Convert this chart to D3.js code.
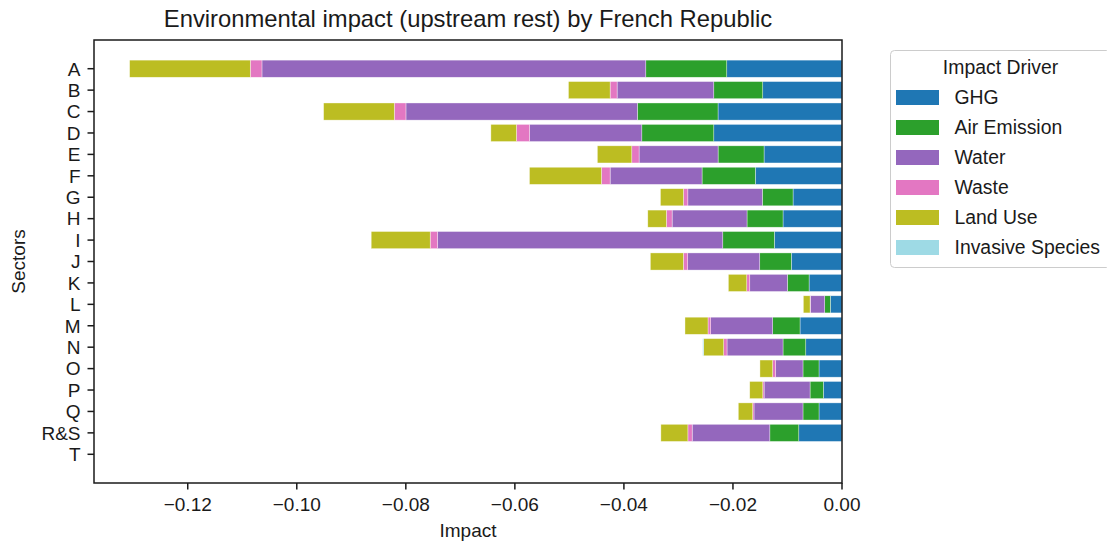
<!DOCTYPE html>
<html><head><meta charset="utf-8">
<script src="https://cdn.jsdelivr.net/npm/d3@7"></script>
<style>body{margin:0;background:#fff;} text{font-family:"Liberation Sans",Arial,sans-serif;fill:#1a1a1a;}</style>
</head><body><svg id="c" width="1107" height="546"></svg>
<script>
const sectors = ["A","B","C","D","E","F","G","H","I","J","K","L","M","N","O","P","Q","R&S","T"];
const drivers = ["GHG","Air Emission","Water","Waste","Land Use","Invasive Species"];
const colors = ["#1f77b4","#2ca02c","#9467bd","#e377c2","#bcbd22","#9edae5"];
const ghg      = [0.02114,0.01454,0.02274,0.02352,0.01430,0.01590,0.00898,0.01082,0.01241,0.00930,0.00604,0.00214,0.00770,0.00665,0.00422,0.00342,0.00422,0.00793,0];
const air      = [0.01485,0.00898,0.01479,0.01320,0.00843,0.00977,0.00563,0.00660,0.00946,0.00579,0.00398,0.00103,0.00501,0.00417,0.00294,0.00244,0.00294,0.00531,0];
const water    = [0.07040,0.01773,0.04245,0.02060,0.01449,0.01686,0.01367,0.01374,0.05232,0.01321,0.00690,0.00264,0.01137,0.01027,0.00501,0.00843,0.00898,0.01424,0];
const waste    = [0.00214,0.00128,0.00214,0.00239,0.00134,0.00159,0.00080,0.00105,0.00134,0.00080,0.00055,0.00005,0.00050,0.00061,0.00055,0.00024,0.00024,0.00079,0];
const landUse  = [0.02213,0.00764,0.01296,0.00469,0.00631,0.01320,0.00422,0.00341,0.01082,0.00605,0.00337,0.00123,0.00422,0.00367,0.00233,0.00239,0.00264,0.00495,0];
const invasive = [0,0,0,0,0,0,0,0,0,0,0,0,0,0.00018,0,0,0,0,0];
const xTicks = [-0.12,-0.10,-0.08,-0.06,-0.04,-0.02,0.00];

const series = [ghg, air, water, waste, landUse, invasive];
const svg = d3.select("#c");
const L = 94, R = 842, T = 40, B = 483;
const FS = 19;

const totals = sectors.map((s,i)=>d3.sum(series, a=>a[i]));
const minV = -d3.max(totals);
const x = d3.scaleLinear().domain([minV*1.05, 0]).range([L, R]);
const n = sectors.length;
const pad = (n - 1 + 0.8) * 0.05;
const yIdx = d3.scaleLinear().domain([-0.4 - pad, n-1+0.4+pad]).range([T, B]);
const bh = yIdx(0.8) - yIdx(0);

// bars
const cum = sectors.map(()=>0);
series.forEach((arr, k) => {
  const g = svg.append("g");
  sectors.forEach((s, i) => {
    const v = arr[i];
    const x0 = -cum[i], x1 = -(cum[i] + v);
    cum[i] += v;
    if (v <= 0) return;
    g.append("rect")
      .attr("x", x(x1)).attr("width", x(x0) - x(x1))
      .attr("y", yIdx(i) - bh/2).attr("height", bh)
      .attr("fill", colors[k]).attr("stroke", "#fff").attr("stroke-width", 0.6).attr("stroke-opacity",0.6);
  });
});

// frame
svg.append("rect").attr("x", L).attr("y", T).attr("width", R-L).attr("height", B-T)
  .attr("fill","none").attr("stroke","#1a1a1a").attr("stroke-width",1.5);

// x axis
const xa = svg.append("g");
xTicks.forEach(t => {
  xa.append("line").attr("x1", x(t)).attr("x2", x(t)).attr("y1", B).attr("y2", B+6.5).attr("stroke","#1a1a1a").attr("stroke-width",1.5);
  xa.append("text").attr("x", x(t)).attr("y", 511).attr("text-anchor","middle").attr("font-size",FS)
    .text(t === 0 ? "0.00" : "\u2212" + Math.abs(t).toFixed(2));
});
// y axis
sectors.forEach((s,i) => {
  svg.append("line").attr("x1", L-6.5).attr("x2", L).attr("y1", yIdx(i)).attr("y2", yIdx(i)).attr("stroke","#1a1a1a").attr("stroke-width",1.5);
  svg.append("text").attr("x", 80.5).attr("y", yIdx(i)+6.8).attr("text-anchor","end").attr("font-size",FS).text(s);
});

svg.append("text").attr("x", (L+R)/2).attr("y", 27).attr("text-anchor","middle").attr("font-size",23.8)
  .text("Environmental impact (upstream rest) by French Republic");
svg.append("text").attr("x", (L+R)/2).attr("y", 537).attr("text-anchor","middle").attr("font-size",FS).text("Impact");
svg.append("text").attr("transform", `translate(25,${(T+B)/2}) rotate(-90)`).attr("text-anchor","middle").attr("font-size",FS).text("Sectors");

// legend
const lg = svg.append("g");
lg.append("rect").attr("x", 890.5).attr("y", 50.5).attr("width", 220).attr("height", 217).attr("rx",4)
  .attr("fill","#fff").attr("stroke","#cccccc");
lg.append("text").attr("x", 1000.5).attr("y", 74).attr("text-anchor","middle").attr("font-size",19.4).text("Impact Driver");
drivers.forEach((d,k) => {
  const yc = 97.5 + k*30;
  lg.append("rect").attr("x", 896).attr("y", yc-7.5).attr("width", 43).attr("height", 15).attr("fill", colors[k]);
  lg.append("text").attr("x", 954.5).attr("y", yc+6.8).attr("font-size",19.4).text(d);
});
</script></body></html>
